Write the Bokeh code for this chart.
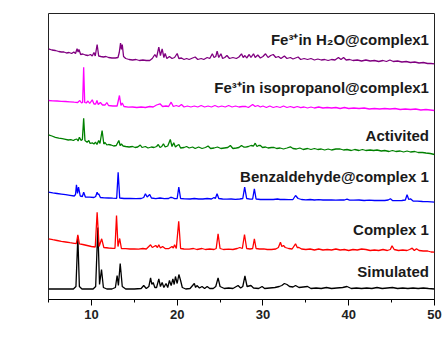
import numpy as np
from bokeh.plotting import figure
from bokeh.models import Range1d, Label, FixedTicker
from bokeh.embed import file_html
from bokeh.resources import INLINE

# Powder XRD patterns: 2-theta (degree) and intensity (a.u.), each relative to its own baseline
sim_x = [5.0, 7.9, 8.2, 8.42, 8.6, 8.9, 9.5, 10.2, 10.5, 10.75, 10.95, 11.18, 11.4, 11.8, 12.4, 12.8, 13.0, 13.15, 13.36, 13.6, 14.0,
         15.0, 15.8, 16.1, 16.4, 16.7, 16.9, 17.05, 17.2, 17.4, 17.6, 17.86, 18.05, 18.25, 18.45, 18.7, 18.9, 19.1, 19.3, 19.5, 19.65,
         19.8, 20.0, 20.2, 20.4, 20.6, 21.0, 21.5, 22.0, 22.15, 22.3, 22.6, 22.9, 23.2, 23.5, 23.8, 24.2, 24.5, 24.77, 25.0, 25.5, 26.0,
         26.5, 27.1, 27.4, 27.65, 27.9, 28.15, 28.6, 28.9, 29.5, 29.9, 30.2, 30.8, 31.4, 31.9, 32.2, 32.5, 32.8, 33.1, 33.5, 33.8, 34.2,
         34.7, 35.2, 35.6, 36.2, 36.8, 37.4, 38.0, 38.6, 39.3, 39.8, 40.3, 40.9, 41.5, 42.1, 42.7, 43.3, 43.9, 44.5, 45.1, 45.7, 46.3,
         46.9, 47.5, 48.1, 48.7, 49.3, 50.0]
sim_y = [0.5, 0.5, 3, 53, 3, 0.5, 0.5, 0.5, 3, 62, 5, 20, 2, 0.5, 0.5, 2, 14, 4, 26, 3, 0.5,
         0.5, 1, 4, 1, 3, 11.7, 5, 7, 2, 2, 10.7, 3, 7, 2, 6, 2, 9, 4, 10.7, 5,
         13, 6, 15, 9, 2, 0.5, 1, 6, 2, 4, 1.5, 3, 1, 3, 1, 1, 3, 11.7, 3, 1, 1.5,
         1, 4, 1.5, 3, 13.5, 3, 4, 1.5, 1, 3, 1, 1.5, 2, 3, 4, 6, 5, 3, 2.5, 4, 2,
         2.5, 3, 1, 1.5, 1, 2, 1, 1.5, 2, 3, 1, 1.5, 1, 1.5, 1, 2, 1, 1.5, 2, 1, 1.5,
         1, 1.5, 1, 1.5, 1, 0.5]

c1_x = [5.0, 5.5, 6.0, 6.5, 7.0, 7.5, 8.0, 8.25, 8.42, 8.6, 9.0, 9.5, 10.0, 10.45, 10.67, 10.9, 11.2, 11.45, 12.0, 12.5, 12.75,
        12.93, 13.1, 13.3, 13.5, 14.0, 14.5, 15.0, 15.5, 16.0, 16.4, 16.9, 17.1, 17.5, 17.7, 17.86, 18.05, 18.3, 18.6, 19.0, 19.4,
        19.55, 19.7, 19.9, 20.18, 20.4, 20.8, 21.4, 21.9, 22.3, 22.9, 23.3, 23.8, 24.3, 24.55, 24.77, 25.0, 25.4, 26.0, 26.5, 27.0,
        27.3, 27.6, 27.85, 28.1, 28.5, 28.8, 29.0, 29.2, 29.6, 30.1, 30.5, 31.0, 31.5, 31.8, 32.04, 32.2, 32.4, 32.6, 33.0, 33.4,
        33.8, 34.0, 34.2, 34.5, 35.0, 35.5, 36.0, 36.5, 37.0, 37.5, 38.0, 38.5, 39.0, 39.5, 40.0, 40.5, 41.0, 41.5, 42.0, 42.5,
        43.0, 43.5, 44.0, 44.5, 44.85, 45.05, 45.3, 45.8, 46.3, 46.8, 47.1, 47.4, 47.65, 47.9, 48.2, 48.7, 49.2, 49.6, 50.0]
c1_y = [13.7, 12.8, 12, 11.2, 10.5, 9.8, 9.2, 9, 17.7, 8.6, 8, 7, 6, 5.5, 40.3, 6, 13.7, 5, 4.5, 4.2, 4.2,
        37, 6, 14, 4, 3.8, 3.5, 3.6, 3.4, 4, 3.5, 7.7, 5, 7, 5, 7.7, 4.5, 6, 4, 3.8, 6,
        4.5, 7.7, 4, 31.3, 4, 3.5, 3.3, 4, 3, 4, 3, 3.5, 3, 4, 18.7, 4, 3, 3.3, 3, 4,
        5, 4, 18, 4, 3.5, 4, 13.7, 4, 3.5, 3.7, 3, 3, 3.5, 5, 10.3, 6, 7, 5, 4, 3.5,
        8.7, 5, 5, 3.5, 3, 3.5, 2.5, 3.5, 2.5, 3, 2.5, 3.5, 2.5, 3, 2, 3, 2.5, 3.5, 3, 2,
        2.5, 2, 3, 2, 3, 6.7, 3, 2, 2.5, 2, 3, 4.3, 2, 3.7, 2, 1.5, 1.5, 0.5, 0.3]

bz_x = [5.0, 5.5, 6.0, 6.5, 7.0, 7.5, 8.0, 8.15, 8.26, 8.38, 8.5, 8.7, 8.95, 9.1, 9.3, 9.8, 10.3, 10.5, 10.67, 10.78, 10.85,
        11.05, 11.5, 12.0, 12.5, 12.95, 13.12, 13.3, 13.8, 14.5, 15.2, 15.8, 16.1, 16.3, 16.5, 16.8, 17.0, 17.5, 18.0, 18.5, 19.0,
        19.2, 19.4, 19.7, 20.0, 20.19, 20.4, 20.9, 21.5, 22.0, 22.5, 23.0, 23.5, 24.0, 24.3, 24.45, 24.65, 24.85, 25.3, 25.8, 26.3,
        26.8, 27.3, 27.65, 27.87, 28.1, 28.5, 28.8, 29.0, 29.2, 29.7, 30.2, 30.7, 31.2, 31.7, 32.0, 32.5, 33.0, 33.5, 33.8, 34.1,
        34.5, 35.0, 35.5, 36.0, 36.5, 37.0, 37.5, 38.0, 38.5, 39.0, 39.5, 39.8, 40.1, 40.6, 41.2, 41.8, 42.4, 43.0, 43.6, 44.2,
        44.6, 44.86, 45.1, 45.6, 46.2, 46.6, 46.8, 47.0, 47.2, 47.5, 48.0, 48.6, 49.2, 50.0]
bz_y = [10.3, 9.6, 9, 8.4, 7.8, 7.2, 6.5, 8, 17.7, 9, 15.3, 6.5, 6, 10.3, 5.5, 5.3, 5, 6, 10.3, 8, 8.7,
        5, 4.7, 4.5, 4.3, 4.2, 30.3, 4.5, 4, 4, 3.8, 4, 5, 8.7, 5.5, 8, 4.5, 3.8, 4.5, 3.8, 4,
        5, 5, 3.8, 4, 15.3, 4, 3.7, 3.5, 4, 3.5, 3.5, 4, 3.5, 5, 4, 8.7, 4, 3.5, 3.3, 3.5,
        3.2, 3.5, 4, 15.3, 4, 3.3, 3.5, 13.7, 3.5, 3, 3.2, 3, 3, 3.5, 3, 3, 2.8, 3, 7, 4,
        3, 2.7, 3, 2.5, 2.8, 2.5, 2.5, 2.7, 2.3, 2.5, 2.5, 3.3, 2.3, 2.3, 2.5, 2, 2.3, 2, 2.2, 2,
        2.5, 3.7, 2, 1.8, 2, 2.5, 7.7, 3, 3.7, 1.5, 1.3, 1, 0.8, 0.3]

act_x = [5.0, 5.4, 5.8, 6.2, 6.6, 7.0, 7.3, 7.6, 7.9, 8.1, 8.3, 8.45, 8.6, 8.8, 8.95, 9.1, 9.25, 9.5, 9.7, 9.85, 10.1,
         10.3, 10.48, 10.65, 10.85, 11.0, 11.25, 11.45, 11.6, 11.8, 12.0, 12.3, 12.6, 12.9, 13.2, 13.35, 13.5, 13.7, 14.0, 14.4,
         14.8, 15.1, 15.4, 15.7, 15.9, 16.3, 16.6, 17.0, 17.3, 17.6, 17.8, 18.0, 18.2, 18.4, 18.6, 18.9, 19.2, 19.4, 19.6, 19.8,
         20.0, 20.2, 20.4, 20.8, 21.1, 21.4, 21.8, 22.1, 22.5, 22.9, 23.3, 23.6, 23.9, 24.3, 24.7, 25.1, 25.5, 25.9, 26.2, 26.5,
         26.9, 27.2, 27.5, 27.8, 28.0, 28.3, 28.6, 28.9, 29.1, 29.3, 29.5, 29.7, 29.95, 30.3, 30.6, 31.0, 31.3, 31.6, 32.0, 32.4,
         32.8, 33.2, 33.5, 33.9, 34.3, 34.7, 35.2, 35.6, 36.0, 36.4, 36.8, 37.2, 37.6, 38.0, 38.5, 39.0, 39.4, 39.8, 40.3, 40.7,
         41.2, 41.6, 42.0, 42.5, 42.9, 43.3, 43.8, 44.2, 44.7, 45.1, 45.5, 46.0, 46.4, 46.8, 47.2, 47.7, 48.1, 48.6, 49.0, 49.5,
         50.0]
act_y = [19.7, 18.5, 17.2, 16.3, 15.8, 15.2, 14.5, 14.8, 14, 15, 15.5, 13.5, 17.3, 14, 15, 36.3, 14, 12.3, 14, 11, 11.7,
         10.5, 12.3, 10, 14, 11, 24, 10.5, 12, 9.5, 10, 9.5, 8.5, 9, 14, 9, 10.5, 8.5, 8, 7.5,
         8, 7, 7.5, 9.5, 7, 8, 6.5, 7.5, 7, 8, 10, 7, 8, 10.7, 7.5, 8.5, 15, 8, 11.7, 7.5,
         9, 10, 6.5, 7, 8, 6.5, 7.5, 6, 7.5, 6, 7, 8.5, 6, 6.5, 7.5, 6, 6.5, 7, 9, 6,
         6.5, 7, 9, 7.3, 7.3, 8, 9, 8.5, 11.3, 8, 9, 9, 7, 7.5, 6.5, 7, 7, 6, 6.5, 5.5,
         6.5, 7.7, 6, 5.5, 6.5, 5, 6, 5, 6, 5, 5.5, 4.5, 5.5, 4.5, 5.5, 5.5, 4.5, 5, 4, 5,
         4, 5, 4, 4.5, 4, 4.5, 3.5, 4, 3, 4, 3, 3.5, 2.5, 3.5, 2.5, 3, 2, 2, 1.5, 1,
         0]

iso_x = [5.0, 5.5, 6.0, 6.5, 7.0, 7.5, 8.0, 8.4, 8.65, 8.85, 8.98, 9.1, 9.22, 9.4, 9.6, 9.8, 10.1, 10.3, 10.5, 10.65, 10.8,
         11.05, 11.3, 11.6, 11.8, 12.0, 12.5, 13.0, 13.27, 13.45, 13.6, 13.8, 14.3, 14.8, 15.3, 15.8, 16.3, 16.8, 17.2, 17.6, 18.0,
         18.3, 18.7, 19.0, 19.3, 19.55, 19.9, 20.2, 20.5, 20.8, 21.2, 21.6, 22.0, 22.4, 22.8, 23.2, 23.6, 24.0, 24.4, 24.8, 25.2,
         25.6, 26.0, 26.4, 26.8, 27.2, 27.6, 28.0, 28.3, 28.8, 29.1, 29.4, 29.7, 30.0, 30.4, 30.8, 31.2, 31.6, 32.0, 32.4, 32.8,
         33.2, 33.6, 34.0, 34.4, 34.8, 35.2, 35.6, 36.0, 36.5, 37.0, 37.5, 38.0, 38.5, 39.0, 39.5, 40.0, 40.6, 41.2, 41.8, 42.4,
         43.0, 43.6, 44.2, 44.8, 45.4, 46.0, 46.6, 47.2, 47.8, 48.4, 49.0, 49.5, 50.0]
iso_y = [10, 9.7, 9.5, 9.2, 9, 8.7, 8.3, 8, 10, 7.5, 8, 43.3, 8, 7.5, 9.5, 7, 10.7, 6.5, 6.5, 10, 6,
         8, 5.5, 5.5, 8, 5, 4.5, 4.5, 15, 5, 7.5, 4, 3.3, 3.5, 3, 3.5, 3, 4, 3.5, 5.5, 6.7,
         4, 4.5, 4, 8.3, 4, 5, 4, 6, 3.5, 4.5, 3.5, 4.5, 3.5, 5, 3.5, 4.5, 3.5, 5, 3.5, 4.5,
         3.5, 5, 3.5, 4.5, 3.5, 4, 4, 3, 6, 4, 5, 3.5, 4.5, 3, 4.5, 3, 4, 3, 4.5, 3,
         4, 2.8, 4, 2.8, 3.5, 2.5, 3.5, 2.5, 3.5, 2.5, 3, 2.5, 3, 2, 3, 2, 2.5, 2, 2.5, 1.5,
         2, 1.5, 2, 1.5, 2, 1, 1.5, 1, 1.5, 0.5, 1, 0.5, 0]

h2o_x = [5.0, 5.4, 5.8, 6.2, 6.5, 6.8, 7.1, 7.4, 7.7, 7.95, 8.15, 8.33, 8.45, 8.55, 8.75, 9.0, 9.3, 9.6, 9.9, 10.1, 10.3,
         10.45, 10.67, 10.85, 11.1, 11.4, 11.7, 12.0, 12.4, 12.8, 13.1, 13.25, 13.4, 13.5, 13.6, 13.75, 14.0, 14.4, 14.8, 15.2, 15.6,
         16.0, 16.4, 16.8, 17.1, 17.4, 17.6, 17.86, 18.05, 18.25, 18.45, 18.6, 18.8, 19.1, 19.4, 19.7, 20.0, 20.2, 20.5, 20.8, 21.1,
         21.4, 21.8, 22.1, 22.4, 22.8, 23.1, 23.5, 23.8, 24.1, 24.3, 24.5, 24.66, 24.85, 25.1, 25.3, 25.55, 25.8, 26.1, 26.5, 26.9,
         27.2, 27.5, 27.7, 27.9, 28.1, 28.4, 28.6, 28.9, 29.1, 29.4, 29.7, 30.0, 30.3, 30.6, 30.9, 31.2, 31.5, 31.8, 32.1, 32.5,
         32.8, 33.2, 33.5, 33.8, 34.1, 34.4, 34.8, 35.2, 35.6, 36.0, 36.4, 36.8, 37.2, 37.6, 38.0, 38.4, 38.8, 39.1, 39.4, 39.7,
         40.1, 40.5, 41.0, 41.5, 42.0, 42.5, 43.0, 43.5, 44.0, 44.4, 44.8, 45.2, 45.7, 46.2, 46.7, 47.2, 47.7, 48.2, 48.7, 49.2,
         49.6, 50.0]
h2o_y = [15.7, 14.5, 14, 13, 12.5, 12.5, 11.5, 12, 11, 12.5, 11, 15.7, 12.5, 15, 10, 10.5, 9.5, 9, 10, 8.5, 12,
         8.5, 20, 8.5, 8, 7.5, 8, 7, 6.5, 6.5, 7, 12, 21.3, 15, 20, 8, 6, 5, 4.5, 5, 4,
         4.5, 4, 4, 6, 10, 7, 17.3, 9, 15.7, 7, 11, 6, 8, 6, 7, 11, 6, 6.5, 5, 6,
         5, 6.5, 7.5, 5, 6, 5, 7, 6, 10.7, 7, 8, 13.3, 7, 10.7, 6, 7, 9, 6, 7, 6,
         7.5, 10.7, 7, 9, 6.5, 10, 7, 10.7, 7, 9.5, 6.5, 8, 10.7, 7, 9, 10, 7, 8, 6, 8.5,
         6, 7, 5.5, 6.5, 7.5, 5, 6, 5, 6, 4.5, 5.5, 4.5, 5, 4, 5, 4.5, 7, 5, 7, 4.5,
         5, 4, 4.5, 3.5, 4.5, 3.5, 4, 3, 4, 3, 4.5, 3, 3.5, 2.5, 3, 2, 2.5, 1.5, 2, 1,
         1, 0.7]

names = ["Simulated", "Complex 1", "Benzaldehyde@complex 1", "Activited",
         "Fe\u00b3\u207ain isopropanol@complex1", "Fe\u00b3\u207ain H\u2082O@complex1"]
xs = [sim_x, c1_x, bz_x, act_x, iso_x, h2o_x]
ys = [sim_y, c1_y, bz_y, act_y, iso_y, h2o_y]

# drawing settings: vertical stacking offsets, colours and label heights
offsets = [10, 47, 97, 145, 189, 235]
colors = ["#000000", "#ff0000", "#0000ff", "#008000", "#ff00ff", "#800080"]
label_y = [28, 70, 123, 164, 212, 260.5]

FONT = "Liberation Sans"

p = figure(width=444, height=346, output_backend="svg", toolbar_location=None,
           x_range=Range1d(5, 50), y_range=Range1d(0, 286),
           min_border_left=48, min_border_right=10, min_border_top=13, min_border_bottom=47)
p.background_fill_color = "white"
p.border_fill_color = "white"
p.outline_line_color = "#222222"
p.outline_line_width = 1
p.xgrid.visible = False
p.ygrid.visible = False
p.yaxis.visible = False

ax = p.xaxis[0]
ax.ticker = FixedTicker(ticks=[10, 20, 30, 40, 50], minor_ticks=[5, 15, 25, 35, 45])
ax.major_tick_out = 6
ax.major_tick_in = 0
ax.minor_tick_out = 3
ax.minor_tick_in = 0
ax.axis_line_color = "black"
ax.major_tick_line_color = "black"
ax.minor_tick_line_color = "black"
ax.major_label_text_font = FONT
ax.major_label_text_font_style = "bold"
ax.major_label_text_font_size = "13px"
ax.major_label_text_color = "#222222"
ax.major_label_standoff = 4

for x, y, off, col in zip(xs, ys, offsets, colors):
    p.line(np.array(x), np.array(y) + off, line_color=col, line_width=1.3)

for name, ly in zip(names, label_y):
    p.add_layout(Label(x=49.35, y=ly, text=name, text_align="right", text_baseline="middle",
                       text_font=FONT, text_font_style="bold", text_font_size="15px",
                       text_color="#1a1a1a"))

p.add_layout(Label(x=28.9, y=-35, text="2\u03b8(degree)", text_align="center", text_baseline="middle",
                   text_font=FONT, text_font_style="bold", text_font_size="15px", text_color="#111111"))
p.add_layout(Label(x=-0.5, y=274, text="(a)", text_align="left", text_baseline="middle",
                   text_font=FONT, text_font_style="bold", text_font_size="22px", text_color="#111111"))

open("out.html", "w").write(file_html(p, INLINE))
